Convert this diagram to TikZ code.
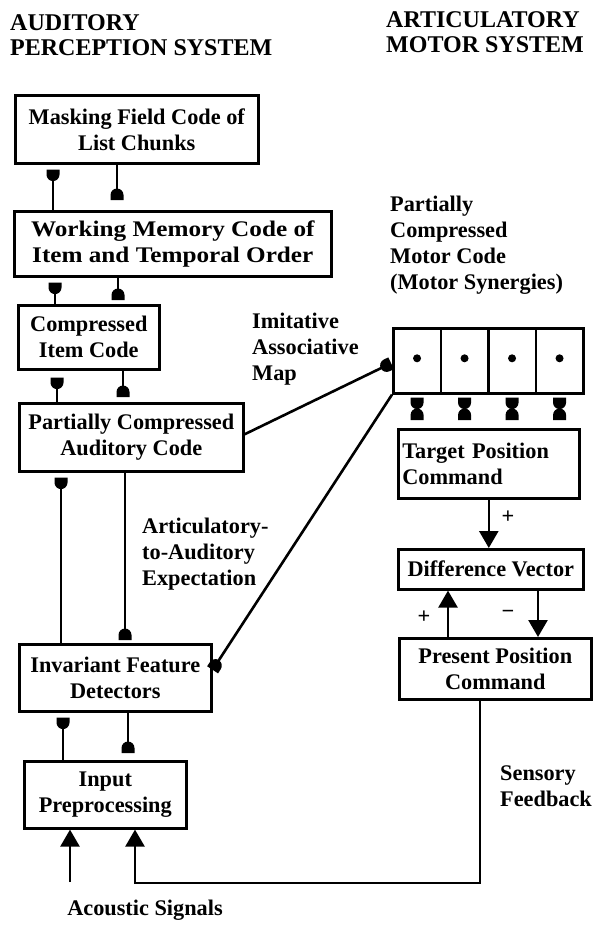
\documentclass[tikz,border=0pt]{standalone}
\usepackage{fontspec}
\setmainfont{Liberation Serif}
\newfontfamily\widefont[FakeStretch=1.13]{Liberation Serif}
\usetikzlibrary{arrows.meta}
\newcommand\mylbl{\fontsize{22.3}{26}\selectfont\bfseries}
\newcommand\myhead{\fontsize{24}{24.5}\selectfont\bfseries}

\pgfdeclarearrow{
  name = Bulb,
  parameters = {\the\pgfarrowlength},
  setup code = {
    \pgfarrowssettipend{0pt}
    \pgfarrowssetlineend{-5pt}
    \pgfarrowssetbackend{-11.5pt}
    \pgfarrowshullpoint{0pt}{6.5pt}
    \pgfarrowshullpoint{0pt}{-6.5pt}
    \pgfarrowshullpoint{-11.5pt}{0pt}
    \pgfarrowssavethe\pgfarrowlength
  },
  drawing code = {
    \pgfpathmoveto{\pgfqpoint{0pt}{6.5pt}}
    \pgfpathlineto{\pgfqpoint{-5pt}{6.5pt}}
    \pgfpatharc{90}{270}{6.5pt}
    \pgfpathlineto{\pgfqpoint{0pt}{-6.5pt}}
    \pgfpathclose
    \pgfusepathqfill
  },
  defaults = {length = 11.5pt}
}

\tikzset{
  box/.style={draw, line width=2.6pt, inner sep=0pt, align=center, anchor=north west},
  cell/.style={draw, line width=2.6pt, inner sep=0pt, minimum width=47.5pt, minimum height=65pt, anchor=north west},
  conn/.style={line width=2.6pt},
  bulb/.style={conn, -{Bulb}},
  hglass/.style={conn, {Bulb}-{Bulb}},
  tri/.style={conn, -{Triangle[length=17pt,width=19pt]}},
  lab/.style={align=left, anchor=west, inner sep=0pt},
}

\begin{document}
\begin{tikzpicture}[x=1pt, y=-1pt, every node/.style={font=\mylbl}]
\useasboundingbox (0,0) rectangle (597,926);

% headings
\node[lab, font=\myhead] (h1) at (10,35) {AUDITORY\\PERCEPTION SYSTEM};
\node[lab, font=\myhead] (h2) at (386,32) {ARTICULATORY\\MOTOR SYSTEM};

% auditory boxes
\node[box, minimum width=243pt, minimum height=68pt] (mf) at (14,94) {Masking Field Code of\\List Chunks};
\node[box, minimum width=317pt, minimum height=65pt, font=\fontsize{22.3}{26}\widefont\bfseries] (wm) at (13,210) {Working Memory Code of\\Item and Temporal Order};
\node[box, minimum width=141pt, minimum height=64pt] (ci) at (17,304) {Compressed\\Item Code};
\node[box, minimum width=224pt, minimum height=68pt] (pca) at (18,402) {Partially Compressed\\Auditory Code};
\node[box, minimum width=192pt, minimum height=67pt] (ifd) at (18,643) {Invariant Feature\\Detectors};
\node[box, minimum width=162pt, minimum height=67pt] (ip) at (23,760) {Input\\Preprocessing};

% motor boxes
\node[cell] (mc1) at (392,327) {};
\node[cell] (mc2) at (439.5,327) {};
\node[cell] (mc3) at (487,327) {};
\node[cell] (mc4) at (534.5,327) {};
\foreach \c in {mc1,mc2,mc3,mc4} \fill ([yshift=2.5pt]\c.center) circle (4pt);

\node[box, text width=173pt, inner xsep=4pt, minimum height=69pt, align=left] (tp) at (397,428) {Target Position\\Command};
\node[box, minimum width=185pt, minimum height=40pt] (dv) at (397,548) {Difference Vector};
\node[box, minimum width=192pt, minimum height=61pt] (pp) at (398,637) {Present Position\\Command};

% columns
\coordinate (x53) at (53,0);  \coordinate (x117) at (117,0);
\coordinate (x55) at (55,0);  \coordinate (x118) at (118,0);
\coordinate (x57) at (57,0);  \coordinate (x123) at (123,0);
\coordinate (x60) at (61,0);  \coordinate (x125) at (125,0);
\coordinate (x63) at (63,0);  \coordinate (x128) at (128,0);
\coordinate (x448) at (448,0); \coordinate (x538) at (538,0);
\coordinate (x480) at (480,0);
\coordinate (fb) at (135,883);
\coordinate (ac) at (70,882);

% auditory connectors
\draw[bulb, shorten >=5pt] (x53 |- wm.north) -- (x53 |- mf.south);
\draw[bulb, shorten >=10pt] (x117 |- mf.south) -- (x117 |- wm.north);
\draw[bulb, shorten >=5pt] (x55 |- ci.north) -- (x55 |- wm.south);
\draw[bulb, shorten >=4pt] (x118 |- wm.south) -- (x118 |- ci.north);
\draw[bulb, shorten >=7pt] (x57 |- pca.north) -- (x57 |- ci.south);
\draw[bulb, shorten >=5pt] (x123 |- ci.south) -- (x123 |- pca.north);
\draw[bulb, shorten >=5pt] (x60 |- ifd.north) -- (x60 |- pca.south);
\draw[bulb, shorten >=3pt] (x125 |- pca.south) -- (x125 |- ifd.north);
\draw[bulb, shorten >=5pt] (x63 |- ip.north) -- (x63 |- ifd.south);
\draw[bulb, shorten >=7pt] (x128 |- ifd.south) -- (x128 |- ip.north);

% cross connectors
\draw[bulb, shorten >=1pt] ([yshift=3pt]pca.east) -- ([yshift=-2pt]mc1.west);
\draw[bulb] (mc1.south west) -- ([yshift=8pt]ifd.east);

% motor connectors
\foreach \c in {mc1,mc2,mc3,mc4}
  \draw[hglass, shorten <=3pt, shorten >=8pt] (\c.south) -- (\c.south |- tp.north);
\draw[tri] (tp.south) -- (tp.south |- dv.north);
\draw[tri] (x448 |- pp.north) -- (x448 |- dv.south);
\draw[tri] (x538 |- dv.south) -- (x538 |- pp.north);
\draw[tri] (x480 |- pp.south) |- (fb) -- (fb |- ip.south);
\draw[tri] (ac) -- (ac |- ip.south);

% signs
\node (plus1) at (508,517) {+};
\node (plus2) at (424,617) {+};
\node (minus) at (508,614) {−};

% labels
\node[lab] (pcm) at (390,245) {Partially\\Compressed\\Motor Code\\(Motor Synergies)};
\node[lab] (iam) at (252,349) {Imitative\\Associative\\Map};
\node[lab] (ate) at (142,554) {Articulatory-\\to-Auditory\\Expectation};
\node[lab] (sf) at (500,786) {Sensory\\Feedback};
\node (acs) at (145,910) {Acoustic Signals};
\end{tikzpicture}
\end{document}
